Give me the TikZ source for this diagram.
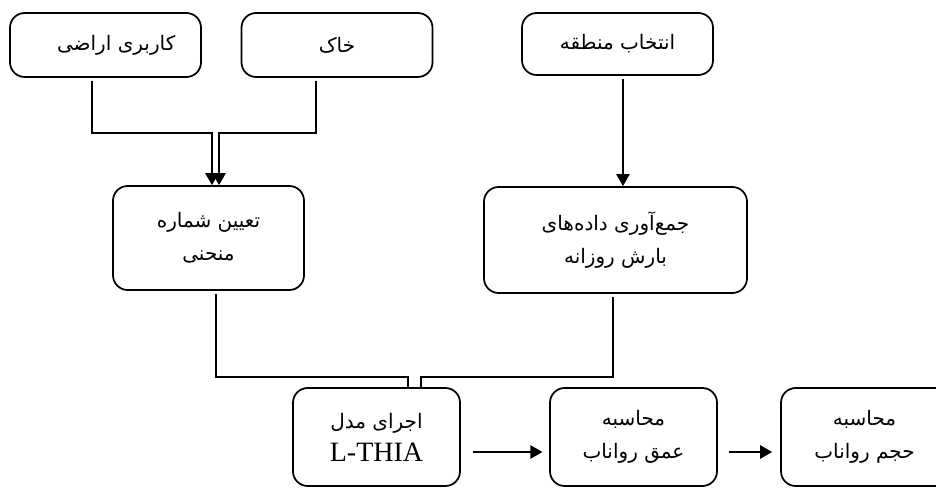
\documentclass[tikz,border=0pt]{standalone}
\usepackage{fontspec}
\setmainfont{Liberation Serif}
\newfontfamily\farsi[Script=Arabic]{DejaVu Sans}
\TeXXeTstate=1
\newcommand{\pers}[1]{\beginR #1\endR}
\usetikzlibrary{positioning,arrows.meta}

\begin{document}
\begin{tikzpicture}[
            x=0.75pt, y=-0.75pt,
            box/.style={draw,rounded corners=11pt,line width=1.3pt,align=center,inner sep=0pt,
                font=\farsi\fontsize{15}{24.75}\selectfont},
            small box/.style={box,minimum width=143.25pt,minimum height=48pt},
            low box/.style={box,minimum width=125.25pt,minimum height=73.5pt},
            link/.style={draw,line width=1.2pt,shorten <=2pt},
            arrow/.style={link,-{Triangle[width=10pt,length=9pt]}},
        ]
            \useasboundingbox (0,0) rectangle (936,488);
            \clip (0,0) rectangle (936,488);

            \node[small box] (landuse) at (105.5,45) {\hspace*{16pt}\pers{کاربری اراضی}};
            \node[small box] (soil) at (337,45) {\pers{خاک}};
            \node[small box,minimum height=46.5pt] (region) at (617.5,44) {\pers{انتخاب منطقه}};
            \node[box,minimum width=143.25pt,minimum height=78pt] (cn) at (208.5,238) {\pers{تعیین شماره}\\\pers{منحنی}};
            \node[box,minimum width=197.25pt,minimum height=79.5pt] (rain) at (615.5,240) {\pers{جمع‌آوری داده‌های}\\\pers{بارش روزانه}};
            \node[low box] (model) at (376.5,437) {\pers{اجرای مدل}\\{\rmfamily\fontsize{21}{24.75}\selectfont L-THIA}};
            \node[low box] (depth) at (633.5,437) {\pers{محاسبه}\\\pers{عمق رواناب}};
            % runs off the right edge of the page
            \node[low box,minimum width=150pt] (volume) at (881,437) {\pers{محاسبه}\hspace*{24.75pt}\\\pers{حجم رواناب}\hspace*{24.75pt}};

            \draw[arrow] ([xshift=-10.1pt]landuse.south) -- ++(0,55) -| ([xshift=2.6pt]cn.north);
            \draw[arrow] ([xshift=-15.75pt]soil.south) -- ++(0,55) -| ([xshift=7.9pt]cn.north);
            \draw[arrow] ([xshift=4.1pt]region.south) -- ([xshift=5.6pt]rain.north);

            \draw[link] ([xshift=5.6pt]cn.south) -- ++(0,86) -| ([xshift=23.6pt]model.north);
            \draw[link] ([xshift=-1.9pt]rain.south) -- ++(0,83) -| ([xshift=33.4pt]model.north);

            \draw[arrow,shorten <=9pt,shorten >=5pt] ([yshift=-11.25pt]model.east) -- ([yshift=-11.25pt]depth.west);
            \draw[arrow,shorten <=8pt,shorten >=6pt] ([yshift=-11.25pt]depth.east) -- ([yshift=-11.25pt]volume.west);
        \end{tikzpicture}
\end{document}
